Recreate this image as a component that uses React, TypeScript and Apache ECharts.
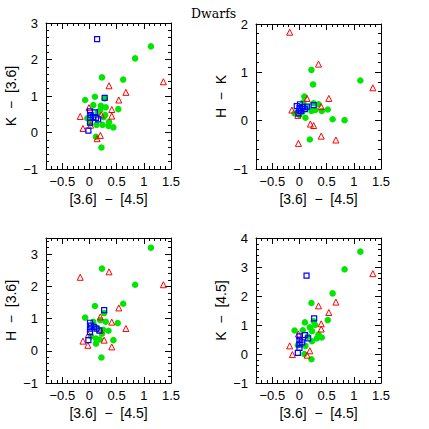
import React, { useEffect, useRef } from "react";
import * as echarts from "echarts";

// x axis (shared): [3.6] - [4.5]
const xName = "[3.6]  \u2212  [4.5]";
const xMajor = [-0.5, 0, 0.5, 1, 1.5];

// Panel 1: K - [3.6]
const p1Green = [[1.13,2.36],[0.84,2.03],[0.62,1.45],[0.23,1.51],[0.10,0.98],[-0.08,0.89],[0.28,0.93],[0.07,0.75],[0.21,0.73],[0.30,0.69],[0.53,0.64],[0.20,0.62],[0.29,0.48],[0.36,0.29],[0.24,0.21],[0.13,0.21],[0.44,0.14],[0.35,0.18],[0.12,-0.12],[0.22,-0.41],[-0.04,0.39],[0.01,0.25],[0.05,0.45],[0.26,0.42],[0.15,0.55]];
const p1Red = [[1.36,1.39],[0.36,1.28],[0.67,1.10],[0.54,0.89],[0.41,0.63],[0.41,0.45],[-0.17,0.44],[-0.01,0.68],[-0.12,0.11],[0.20,-0.08],[0.14,-0.17],[0.02,0.2],[0.22,0.48]];
const p1Blue = [[0.14,2.56],[0.28,0.95],[0.10,0.55],[0.01,0.58],[0.01,0.40],[0.16,0.36],[0.01,0.27],[0.07,0.42],[-0.02,0.05],[0.12,0.40],[0.02,0.48]];

// Panel 2: H - K
const p2Green = [[1.12,0.83],[0.22,1.05],[0.25,0.75],[0.09,0.50],[0.07,0.38],[0.26,0.36],[0.35,0.34],[0.52,0.23],[0.41,0.20],[0.29,0.22],[0.22,0.20],[0.61,0.03],[0.83,0.01],[0.11,0.06],[0.19,-0.39],[-0.09,0.15],[0.05,0.18],[0.13,0.27],[0.0,0.12]];
const p2Red = [[-0.18,1.83],[0.35,1.17],[1.35,0.68],[0.54,0.46],[0.14,0.46],[0.40,0.29],[-0.14,0.22],[-0.03,0.11],[0.20,-0.07],[0.26,-0.10],[0.40,-0.32],[-0.02,-0.47],[0.67,-0.40]];
const p2Blue = [[-0.05,0.30],[0.01,0.34],[0.0,0.26],[-0.02,0.15],[0.06,0.28],[0.14,0.29],[0.26,0.32],[0.10,0.24],[0.0,0.21],[0.03,0.20]];

// Panel 3: H - [3.6]
const p3Green = [[1.13,3.20],[0.23,2.55],[0.84,2.05],[0.62,1.46],[0.10,1.39],[-0.08,1.03],[0.27,1.17],[0.20,0.95],[0.30,0.90],[0.52,0.86],[0.07,0.90],[0.35,0.62],[0.23,0.53],[0.44,0.33],[0.12,0.38],[0.19,0.35],[0.12,0.22],[0.22,-0.21],[0.13,0.71],[0.03,0.45],[0.25,0.65]];
const p3Red = [[-0.17,2.28],[0.36,2.45],[1.36,2.05],[0.54,1.33],[0.20,1.05],[0.41,0.89],[0.67,0.69],[-0.12,0.30],[-0.03,0.17],[0.27,0.33],[0.41,0.12],[0.20,0.64],[-0.02,0.5]];
const p3Blue = [[0.27,1.26],[0.01,0.87],[0.08,0.74],[0.01,0.69],[0.13,0.69],[0.18,0.63],[0.01,0.58],[-0.02,0.33],[0.03,0.78]];

// Panel 4: K - [4.5]
const p4Green = [[1.12,3.53],[0.83,2.92],[0.61,2.09],[0.22,1.76],[0.52,1.17],[0.10,1.09],[0.26,1.13],[0.19,0.92],[0.29,1.0],[-0.09,0.81],[0.06,0.82],[0.23,0.79],[0.35,0.67],[0.41,0.57],[0.32,0.54],[0.23,0.44],[0.11,0.28],[0.09,0.0],[0.22,-0.18],[-0.03,0.3],[0.15,0.6]];
const p4Red = [[1.35,2.77],[0.67,1.79],[0.35,1.66],[0.54,1.43],[0.40,1.04],[0.40,0.86],[-0.02,0.69],[-0.18,0.28],[-0.13,-0.02],[0.19,0.11],[0.14,-0.04],[0.02,0.5]];
const p4Blue = [[0.13,2.70],[0.27,1.23],[0.10,0.65],[0.0,0.61],[0.16,0.54],[0.0,0.48],[0.0,0.33],[0.0,0.21],[-0.03,0.04],[0.05,0.4]];

const yNames = ["K  \u2212  [3.6]", "H  \u2212  K", "H  \u2212  [3.6]", "K  \u2212  [4.5]"];
const yRanges = [[-1, 3], [-1, 2], [-1, 3.5], [-1, 4]];
const yMajors = [[-1, 0, 1, 2, 3], [-1, 0, 1, 2], [-1, 0, 1, 2, 3], [-1, 0, 1, 2, 3, 4]];

const FONT = "Liberation Sans";
const fmt = (v: number) => (v < 0 ? "\u2212" + Math.abs(v) : String(v));

export default function App() {
  const ref = useRef<HTMLDivElement>(null);
  useEffect(() => {
    if (!ref.current) return;
    const chart = echarts.init(ref.current, null, { renderer: "svg" });
    const rects = [
      { left: 46, top: 23, width: 125, height: 146 },
      { left: 256, top: 24, width: 125, height: 145 },
      { left: 46, top: 238, width: 125, height: 145 },
      { left: 256, top: 238, width: 125, height: 145 },
    ];
    const data = [
      [p1Green, p1Red, p1Blue],
      [p2Green, p2Red, p2Blue],
      [p3Green, p3Red, p3Blue],
      [p4Green, p4Red, p4Blue],
    ];
    const grid: any[] = [];
    const xAxis: any[] = [];
    const yAxis: any[] = [];
    const series: any[] = [];
    const line = { color: "#000", width: 1 };
    rects.forEach((r, p) => {
      grid.push({ ...r, containLabel: false });
      grid.push({ ...r, containLabel: false });
      const gA = 2 * p, gB = 2 * p + 1;
      const [yMin, yMax] = yRanges[p];
      // minor (copy A)
      ["bottom", "top"].forEach((pos) => {
        xAxis.push({
          type: "value", gridIndex: gA, position: pos, min: -0.8, max: 1.5, interval: 0.1,
          axisLine: { show: true, onZero: false, lineStyle: line },
          axisTick: { show: true, inside: true, length: 3, lineStyle: line },
          axisLabel: { show: false }, splitLine: { show: false },
        });
      });
      ["left", "right"].forEach((pos) => {
        yAxis.push({
          type: "value", gridIndex: gA, position: pos, min: yMin, max: yMax, interval: 0.2,
          axisLine: { show: true, onZero: false, lineStyle: line },
          axisTick: { show: true, inside: true, length: 3, lineStyle: line },
          axisLabel: { show: false }, splitLine: { show: false },
        });
      });
      // major (copy B)
      ["bottom", "top"].forEach((pos) => {
        const isB = pos === "bottom";
        xAxis.push({
          type: "value", gridIndex: gB, position: pos, min: -0.8, max: 1.5,
          axisLine: { show: false, onZero: false },
          axisTick: { show: true, inside: true, length: 6, lineStyle: line, customValues: xMajor },
          axisLabel: isB
            ? { show: true, customValues: xMajor, formatter: fmt, margin: 6, fontSize: 13, color: "#000", fontFamily: FONT }
            : { show: false },
          splitLine: { show: false },
          name: isB ? xName : "",
          nameLocation: "middle", nameGap: 23,
          nameTextStyle: { fontSize: 14, color: "#000", fontFamily: FONT },
        });
      });
      ["left", "right"].forEach((pos) => {
        const isL = pos === "left";
        yAxis.push({
          type: "value", gridIndex: gB, position: pos, min: yMin, max: yMax,
          axisLine: { show: false, onZero: false },
          axisTick: { show: true, inside: true, length: 6, lineStyle: line, customValues: yMajors[p] },
          axisLabel: isL
            ? { show: true, customValues: yMajors[p], formatter: fmt, margin: 8, fontSize: 13, color: "#000", fontFamily: FONT }
            : { show: false },
          splitLine: { show: false },
          name: isL ? yNames[p] : "",
          nameLocation: "middle", nameGap: 28,
          nameTextStyle: { fontSize: 14, color: "#000", fontFamily: FONT },
        });
      });
      const xi = 4 * p, yi = 4 * p;
      const [g, rd, bl] = data[p];
      series.push({
        type: "scatter", xAxisIndex: xi, yAxisIndex: yi, data: g, symbol: "circle", symbolSize: 6.5,
        itemStyle: { color: "#00e600", opacity: 1 }, z: 2,
      });
      series.push({
        type: "scatter", xAxisIndex: xi, yAxisIndex: yi, data: rd, symbol: "triangle", symbolSize: 6,
        itemStyle: { color: "rgba(0,0,0,0)", borderColor: "#ff0000", borderWidth: 1, opacity: 1 }, z: 3,
      });
      series.push({
        type: "scatter", xAxisIndex: xi, yAxisIndex: yi, data: bl, symbol: "rect", symbolSize: 5,
        itemStyle: { color: "rgba(0,0,0,0)", borderColor: "#0000ff", borderWidth: 1.2, opacity: 1 }, z: 4,
      });
    });
    chart.setOption({
      animation: false,
      backgroundColor: "#fff",
      title: {
        text: "Dwarfs", left: 191, top: 7, padding: 0,
        textStyle: { fontSize: 12.5, fontWeight: "normal", color: "#000", fontFamily: "DejaVu Serif" },
      },
      grid, xAxis, yAxis, series,
    });
    return () => chart.dispose();
  }, []);
  return (
    <div
      ref={ref}
      style={{ position: "absolute", left: 0, top: 0, width: 429, height: 429 }}
    />
  );
}
